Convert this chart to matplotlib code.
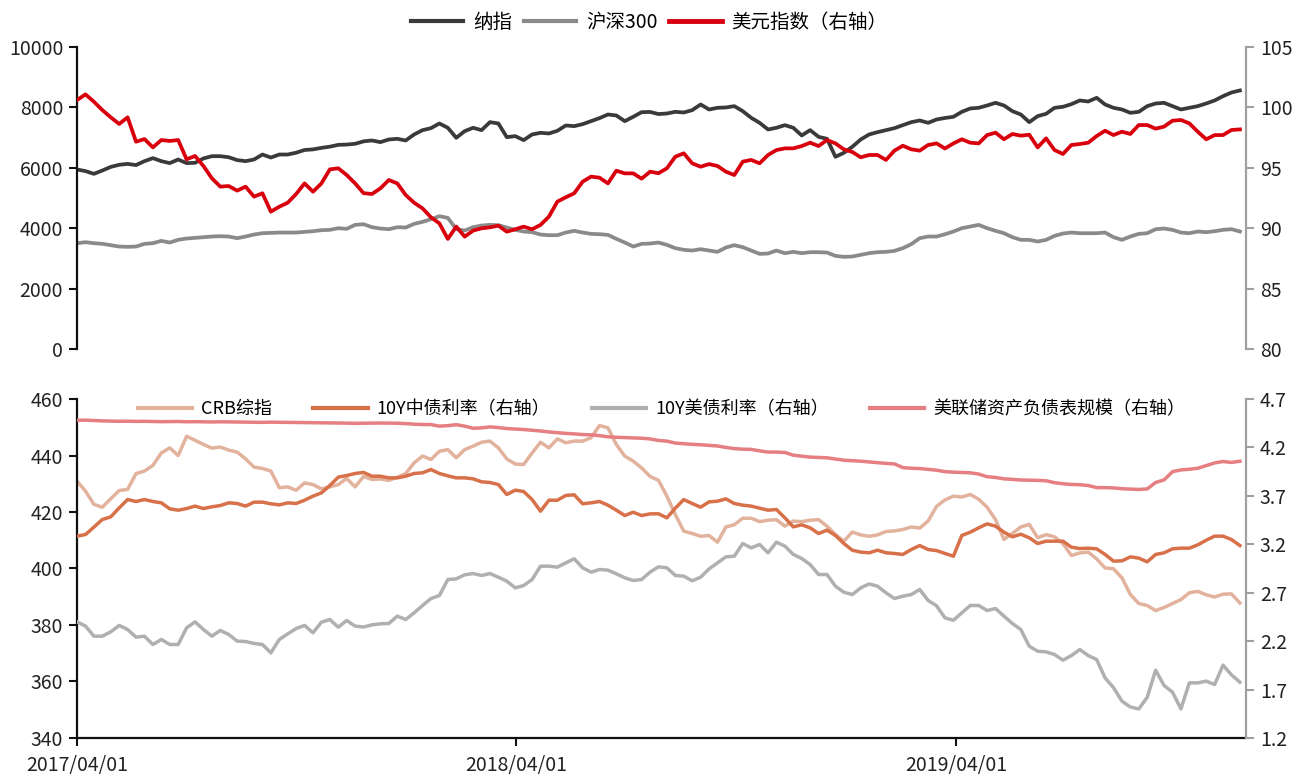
import numpy as np
import pandas as pd
import matplotlib
matplotlib.use("Agg")
import matplotlib.pyplot as plt
import matplotlib.dates as mdates
from matplotlib.lines import Line2D
from matplotlib.ticker import FormatStrFormatter

plt.rcParams['font.family'] = ['Noto Sans CJK SC', 'DejaVu Sans']
plt.rcParams['axes.unicode_minus'] = False

# weekly observations
dates = pd.date_range("2017-04-01", periods=139, freq="7D")
x_end = pd.Timestamp("2019-11-28")

nasdaq = [5945, 5890, 5800, 5910, 6030, 6100, 6130, 6090, 6220, 6320,
          6220, 6155, 6275, 6155, 6165, 6310, 6385, 6385, 6350, 6255,
          6220, 6275, 6440, 6340, 6440, 6440, 6500, 6590, 6610, 6660,
          6700, 6760, 6770, 6795, 6876, 6905, 6850, 6938, 6960, 6905,
          7104, 7247, 7313, 7468, 7325, 6993, 7214, 7325, 7247, 7512,
          7468, 7015, 7049, 6916, 7104, 7159, 7137, 7225, 7402, 7380,
          7446, 7545, 7645, 7766, 7733, 7545, 7689, 7843, 7850, 7780,
          7799, 7854, 7832, 7909, 8097, 7932, 7987, 7998, 8042, 7876,
          7656, 7490, 7269, 7325, 7413, 7325, 7071, 7247, 7026, 6960,
          6364, 6497, 6695, 6938, 7104, 7181, 7247, 7313, 7413, 7512,
          7567, 7490, 7600, 7650, 7689, 7854, 7965, 7987, 8064, 8152,
          8064, 7876, 7766, 7512, 7711, 7788, 7987, 8020, 8108, 8230,
          8196, 8318, 8097, 7987, 7932, 7821, 7854, 8042, 8130, 8152,
          8042, 7932, 7987, 8042, 8130, 8230, 8373, 8494, 8561]

hs300 = [3503, 3536, 3503, 3481, 3437, 3393, 3382, 3393, 3481, 3503,
         3580, 3525, 3614, 3658, 3680, 3702, 3724, 3735, 3724, 3669,
         3724, 3790, 3834, 3845, 3856, 3856, 3856, 3878, 3900, 3934,
         3945, 4000, 3978, 4110, 4132, 4033, 3989, 3967, 4033, 4022,
         4143, 4210, 4298, 4397, 4342, 3967, 3923, 4033, 4088, 4110,
         4099, 4022, 3945, 3890, 3868, 3790, 3768, 3768, 3856, 3912,
         3856, 3812, 3801, 3779, 3647, 3525, 3393, 3481, 3492, 3525,
         3448, 3338, 3283, 3260, 3305, 3260, 3216, 3360, 3437, 3371,
         3260, 3150, 3161, 3260, 3172, 3216, 3172, 3205, 3205, 3194,
         3084, 3051, 3062, 3117, 3172, 3205, 3216, 3249, 3338, 3470,
         3669, 3724, 3724, 3800, 3890, 4000, 4055, 4110, 4000, 3912,
         3834, 3702, 3614, 3614, 3559, 3614, 3746, 3823, 3856, 3834,
         3834, 3834, 3856, 3702, 3614, 3724, 3812, 3834, 3967, 3989,
         3945, 3856, 3834, 3890, 3868, 3900, 3945, 3967, 3890]

dxy = [100.61, 101.08, 100.47, 99.78, 99.18, 98.63, 99.18, 97.16, 97.38, 96.69,
       97.30, 97.22, 97.30, 95.70, 95.98, 95.15, 94.13, 93.44, 93.49, 93.11,
       93.44, 92.61, 92.89, 91.37, 91.78, 92.11, 92.83, 93.71, 93.02, 93.71,
       94.87, 94.96, 94.40, 93.71, 92.90, 92.83, 93.30, 93.99, 93.71, 92.75,
       92.11, 91.64, 90.90, 90.40, 89.11, 90.13, 89.30, 89.80, 89.99, 90.07,
       90.21, 89.71, 89.91, 90.13, 89.91, 90.27, 90.96, 92.20, 92.56, 92.89,
       93.85, 94.27, 94.18, 93.71, 94.76, 94.54, 94.54, 94.10, 94.68, 94.55,
       94.96, 95.92, 96.20, 95.37, 95.09, 95.31, 95.15, 94.68, 94.40, 95.51,
       95.65, 95.37, 96.06, 96.47, 96.61, 96.61, 96.80, 97.08, 96.80, 97.30,
       97.02, 96.53, 96.31, 95.87, 96.06, 96.06, 95.65, 96.42, 96.83, 96.53,
       96.42, 96.89, 97.02, 96.60, 97.02, 97.36, 97.08, 97.02, 97.71, 97.91,
       97.36, 97.80, 97.66, 97.74, 96.69, 97.44, 96.47, 96.14, 96.89, 96.97,
       97.08, 97.63, 98.07, 97.71, 97.99, 97.80, 98.54, 98.54, 98.24, 98.41,
       98.90, 98.96, 98.68, 97.99, 97.36, 97.71, 97.71, 98.13, 98.18]

crb = [430.9, 427.4, 422.7, 421.7, 424.7, 427.6, 428.0, 433.6, 434.5, 436.5,
       440.9, 442.7, 440.0, 446.8, 445.4, 443.9, 442.6, 443.0, 441.9, 441.2,
       438.8, 435.9, 435.4, 434.5, 428.6, 428.9, 427.7, 430.3, 429.7, 428.2,
       428.9, 429.7, 431.9, 428.9, 432.6, 431.5, 431.7, 431.2, 432.3, 433.6,
       437.4, 439.8, 438.6, 441.5, 442.1, 439.2, 442.1, 443.3, 444.7, 445.1,
       442.7, 438.8, 437.0, 436.8, 440.9, 444.7, 442.7, 445.9, 444.5, 445.1,
       445.1, 446.3, 450.6, 449.8, 443.9, 439.8, 438.0, 435.6, 432.6, 431.2,
       425.6, 419.1, 413.2, 412.4, 411.4, 411.7, 409.3, 414.7, 415.5, 417.8,
       417.8, 416.6, 417.1, 417.3, 415.0, 416.8, 416.6, 417.1, 417.3, 415.0,
       412.0, 409.7, 412.9, 411.9, 411.4, 411.9, 413.1, 413.3, 413.8, 414.7,
       414.3, 416.8, 422.0, 424.3, 425.6, 425.3, 426.2, 424.5, 421.7, 417.3,
       410.3, 412.4, 414.7, 415.6, 410.9, 412.0, 411.2, 408.8, 404.6, 405.5,
       405.8, 403.4, 400.2, 399.9, 396.7, 390.8, 387.6, 386.9, 385.1, 386.2,
       387.6, 389.0, 391.4, 391.9, 390.7, 389.9, 390.9, 391.0, 387.8]

cn10y = [3.284, 3.301, 3.377, 3.456, 3.483, 3.576, 3.662, 3.642, 3.662, 3.642,
         3.628, 3.566, 3.552, 3.569, 3.594, 3.569, 3.587, 3.600, 3.628, 3.621,
         3.594, 3.635, 3.635, 3.618, 3.607, 3.628, 3.621, 3.655, 3.697, 3.731,
         3.807, 3.893, 3.910, 3.931, 3.942, 3.903, 3.903, 3.886, 3.886, 3.903,
         3.931, 3.938, 3.972, 3.931, 3.907, 3.886, 3.886, 3.876, 3.845, 3.838,
         3.817, 3.714, 3.759, 3.745, 3.662, 3.542, 3.655, 3.655, 3.704, 3.711,
         3.618, 3.628, 3.642, 3.604, 3.552, 3.497, 3.531, 3.497, 3.514, 3.515,
         3.473, 3.573, 3.662, 3.621, 3.583, 3.638, 3.645, 3.669, 3.621, 3.604,
         3.594, 3.573, 3.552, 3.559, 3.473, 3.380, 3.401, 3.370, 3.311, 3.346,
         3.291, 3.208, 3.139, 3.119, 3.112, 3.139, 3.112, 3.105, 3.095, 3.146,
         3.187, 3.146, 3.135, 3.105, 3.077, 3.291, 3.325, 3.370, 3.411, 3.387,
         3.325, 3.277, 3.304, 3.267, 3.208, 3.232, 3.232, 3.232, 3.170, 3.156,
         3.160, 3.153, 3.095, 3.026, 3.029, 3.070, 3.057, 3.019, 3.095, 3.112,
         3.153, 3.160, 3.160, 3.194, 3.242, 3.284, 3.284, 3.249, 3.187]

us10y = [2.399, 2.355, 2.251, 2.251, 2.296, 2.362, 2.320, 2.241, 2.251, 2.165,
         2.217, 2.165, 2.165, 2.337, 2.399, 2.320, 2.251, 2.310, 2.269, 2.200,
         2.196, 2.176, 2.165, 2.079, 2.217, 2.275, 2.330, 2.362, 2.286, 2.396,
         2.423, 2.344, 2.413, 2.355, 2.346, 2.368, 2.379, 2.382, 2.458, 2.423,
         2.492, 2.568, 2.640, 2.671, 2.836, 2.843, 2.885, 2.898, 2.878, 2.898,
         2.860, 2.819, 2.750, 2.774, 2.836, 2.974, 2.974, 2.964, 3.008, 3.050,
         2.957, 2.912, 2.940, 2.933, 2.895, 2.854, 2.826, 2.836, 2.913, 2.967,
         2.957, 2.878, 2.871, 2.823, 2.860, 2.946, 3.008, 3.070, 3.077, 3.208,
         3.163, 3.198, 3.112, 3.222, 3.181, 3.095, 3.053, 2.991, 2.888, 2.888,
         2.767, 2.705, 2.681, 2.750, 2.791, 2.767, 2.699, 2.640, 2.664, 2.681,
         2.733, 2.620, 2.565, 2.440, 2.416, 2.492, 2.568, 2.568, 2.516, 2.537,
         2.458, 2.382, 2.320, 2.148, 2.096, 2.089, 2.062, 2.003, 2.051, 2.113,
         2.051, 2.010, 1.820, 1.720, 1.580, 1.520, 1.500, 1.620, 1.900, 1.742,
         1.673, 1.500, 1.769, 1.769, 1.787, 1.752, 1.952, 1.852, 1.776]

fed_bs = [4.480, 4.482, 4.478, 4.474, 4.472, 4.470, 4.471, 4.469, 4.470, 4.468,
          4.466, 4.467, 4.468, 4.465, 4.466, 4.464, 4.463, 4.465, 4.464, 4.462,
          4.463, 4.461, 4.459, 4.461, 4.460, 4.458, 4.459, 4.457, 4.455, 4.456,
          4.454, 4.452, 4.451, 4.449, 4.450, 4.452, 4.452, 4.451, 4.450, 4.446,
          4.440, 4.437, 4.436, 4.420, 4.425, 4.435, 4.420, 4.398, 4.402, 4.412,
          4.405, 4.395, 4.390, 4.385, 4.378, 4.370, 4.360, 4.352, 4.345, 4.340,
          4.333, 4.330, 4.322, 4.310, 4.305, 4.302, 4.298, 4.295, 4.288, 4.272,
          4.265, 4.245, 4.238, 4.232, 4.228, 4.222, 4.215, 4.200, 4.188, 4.182,
          4.180, 4.165, 4.152, 4.152, 4.148, 4.120, 4.110, 4.100, 4.097, 4.093,
          4.080, 4.068, 4.063, 4.058, 4.050, 4.041, 4.035, 4.030, 3.992, 3.985,
          3.982, 3.974, 3.965, 3.950, 3.945, 3.942, 3.938, 3.925, 3.898, 3.890,
          3.876, 3.870, 3.864, 3.862, 3.860, 3.856, 3.836, 3.825, 3.818, 3.815,
          3.807, 3.785, 3.785, 3.782, 3.774, 3.770, 3.766, 3.772, 3.838, 3.865,
          3.950, 3.968, 3.975, 3.985, 4.012, 4.040, 4.055, 4.045, 4.058]

date_ticks = ["2017-04-01", "2018-04-01", "2019-04-01"]

c_nasdaq = "#3a3a3a"
c_hs300 = "#8a8a8a"
c_dxy = "#d9000d"
c_crb = "#e2b29d"
c_cn = "#d8714a"
c_us = "#b0b0b0"
c_fed = "#e57f82"
c_raxis = "#a0a0a0"
fs = 14

fig = plt.figure(figsize=(13.06, 7.76), dpi=100)
ax1 = fig.add_axes([0.059, 0.5503, 0.895, 0.3891])
ax1r = ax1.twinx()
ax2 = fig.add_axes([0.059, 0.049, 0.895, 0.4368])
ax2r = ax2.twinx()

# upper panel: equity indices and dollar index
ax1.plot(dates, nasdaq, color=c_nasdaq, lw=2.7)
ax1.plot(dates, hs300, color=c_hs300, lw=2.7)
ax1r.plot(dates, dxy, color=c_dxy, lw=2.7)
ax1.set_ylim(0, 10000)
ax1.set_yticks(np.arange(0, 10001, 2000))
ax1r.set_ylim(80, 105)
ax1r.set_yticks(np.arange(80, 106, 5))

# lower panel: commodities, yields, Fed balance sheet
ax2.plot(dates, crb, color=c_crb, lw=2.5)
ax2r.plot(dates, fed_bs, color=c_fed, lw=2.5)
ax2r.plot(dates, us10y, color=c_us, lw=2.5)
ax2r.plot(dates, cn10y, color=c_cn, lw=2.5)
ax2.set_ylim(340, 460)
ax2.set_yticks(np.arange(340, 461, 20))
ax2r.set_ylim(1.2, 4.7)
ax2r.set_yticks(np.arange(1.2, 4.71, 0.5))
ax2r.yaxis.set_major_formatter(FormatStrFormatter('%.1f'))

for ax in (ax1, ax1r, ax2, ax2r):
    ax.set_xlim(dates[0], x_end)
    ax.spines['top'].set_visible(False)
    ax.tick_params(direction='out', length=6, width=1.5, labelsize=fs,
                   colors='#222222', pad=4)

for ax in (ax1, ax2):
    ax.spines['right'].set_visible(False)
    ax.spines['left'].set_linewidth(1.6)
    ax.spines['left'].set_color('#111111')
    ax.tick_params(axis='y', colors='#111111', labelcolor='#222222')
for ax in (ax1r, ax2r):
    ax.spines['left'].set_visible(False)
    ax.spines['bottom'].set_visible(False)
    ax.spines['right'].set_linewidth(1.6)
    ax.spines['right'].set_color(c_raxis)
    ax.tick_params(axis='y', colors=c_raxis, labelcolor='#222222')

ax1.spines['bottom'].set_visible(False)
ax1.tick_params(axis='x', bottom=False, labelbottom=False)
ax1r.tick_params(axis='x', bottom=False, labelbottom=False)

ax2.spines['bottom'].set_linewidth(1.6)
ax2.spines['bottom'].set_color('#111111')
ax2.set_xticks(pd.to_datetime(date_ticks))
ax2.xaxis.set_major_formatter(mdates.DateFormatter('%Y/%m/%d'))
ax2.tick_params(axis='x', colors='#111111', labelcolor='#222222', pad=6)
ax2r.tick_params(axis='x', bottom=False, labelbottom=False)

top_handles = [Line2D([], [], color=c_nasdaq, lw=3),
               Line2D([], [], color=c_hs300, lw=3),
               Line2D([], [], color=c_dxy, lw=3.5)]
top_labels = ["纳指", "沪深300", "美元指数（右轴）"]
fig.legend(top_handles, top_labels, loc='upper center',
           bbox_to_anchor=(0.497, 1.0), ncol=3, frameon=False, fontsize=fs,
           handlelength=2.7, handletextpad=0.5, columnspacing=0.6,
           borderaxespad=0.2)

bot_handles = [Line2D([], [], color=c_crb, lw=3),
               Line2D([], [], color=c_cn, lw=3),
               Line2D([], [], color=c_us, lw=3),
               Line2D([], [], color=c_fed, lw=3)]
bot_labels = ["CRB综指", "10Y中债利率（右轴）", "10Y美债利率（右轴）",
              "美联储资产负债表规模（右轴）"]
ax2r.legend(bot_handles, bot_labels, loc='upper center',
            bbox_to_anchor=(0.50, 1.045), ncol=4, frameon=False,
            fontsize=13, handlelength=3.0, handletextpad=0.5,
            columnspacing=2.3)

fig.savefig("out.png", dpi=100)
